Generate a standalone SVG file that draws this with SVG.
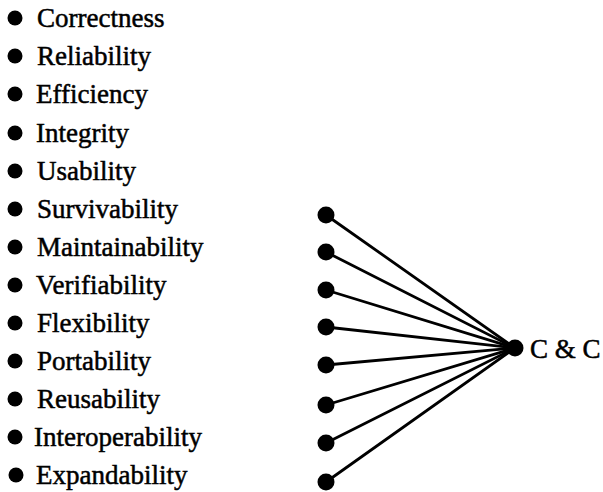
<svg xmlns="http://www.w3.org/2000/svg" width="603" height="492" viewBox="0 0 603 492">
<style>
.t{font-family:"Liberation Serif","Times New Roman",serif;font-size:27px;fill:#000;stroke:#000;stroke-width:0.5}
.b{fill:#000}
.c line{stroke:#000;stroke-width:2.8;stroke-linecap:round}
</style>
<rect width="603" height="492" fill="#fff"/>
<g id="list">
<g id="n1"><circle class="b" cx="15" cy="18" r="7.5"/><text class="t" x="37" y="27">Correctness</text></g>
<g id="n2"><circle class="b" cx="15" cy="56" r="7.5"/><text class="t" x="37" y="65">Reliability</text></g>
<g id="n3"><circle class="b" cx="15" cy="94" r="7.5"/><text class="t" x="36" y="103">Efficiency</text></g>
<g id="n4"><circle class="b" cx="15" cy="133" r="7.5"/><text class="t" x="36" y="142">Integrity</text></g>
<g id="n5"><circle class="b" cx="15" cy="171" r="7.5"/><text class="t" x="37" y="180">Usability</text></g>
<g id="n6"><circle class="b" cx="15" cy="209" r="7.5"/><text class="t" x="37" y="218">Survivability</text></g>
<g id="n7"><circle class="b" cx="15" cy="247" r="7.5"/><text class="t" x="37" y="256">Maintainability</text></g>
<g id="n8"><circle class="b" cx="15" cy="285" r="7.5"/><text class="t" x="36" y="294">Verifiability</text></g>
<g id="n9"><circle class="b" cx="15" cy="323" r="7.5"/><text class="t" x="37" y="332">Flexibility</text></g>
<g id="n10"><circle class="b" cx="15" cy="361" r="7.5"/><text class="t" x="37" y="370">Portability</text></g>
<g id="n11"><circle class="b" cx="15" cy="399" r="7.5"/><text class="t" x="37" y="408">Reusability</text></g>
<g id="n12"><circle class="b" cx="15" cy="437" r="7.5"/><text class="t" x="34" y="446">Interoperability</text></g>
<g id="n13"><circle class="b" cx="16" cy="475" r="7.5"/><text class="t" x="36" y="484">Expandability</text></g>
</g>
<g id="connectors" class="c">
<line x1="326" y1="215" x2="515" y2="348"/>
<line x1="326" y1="252" x2="515" y2="348"/>
<line x1="326" y1="290" x2="515" y2="348"/>
<line x1="326" y1="327" x2="515" y2="348"/>
<line x1="326" y1="365" x2="515" y2="348"/>
<line x1="326" y1="405" x2="515" y2="348"/>
<line x1="326" y1="443" x2="515" y2="348"/>
<line x1="326" y1="482" x2="515" y2="348"/>
</g>
<g id="fan">
<circle class="b" cx="326" cy="215" r="8.5"/>
<circle class="b" cx="326" cy="252" r="8.5"/>
<circle class="b" cx="326" cy="290" r="8.5"/>
<circle class="b" cx="326" cy="327" r="8.5"/>
<circle class="b" cx="326" cy="365" r="8.5"/>
<circle class="b" cx="326" cy="405" r="8.5"/>
<circle class="b" cx="326" cy="443" r="8.5"/>
<circle class="b" cx="326" cy="482" r="8.5"/>
</g>
<g id="hub"><circle class="b" cx="515" cy="348" r="8.5"/><text class="t" x="530" y="358">C &amp; C</text></g>
</svg>
